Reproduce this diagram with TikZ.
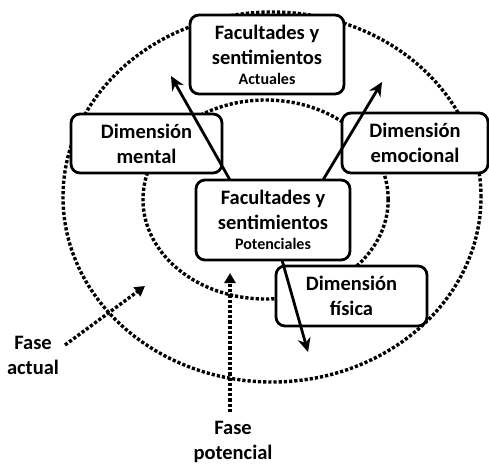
\documentclass[tikz,border=0pt]{standalone}
\usepackage{fontspec}
\setmainfont{Carlito}
\usetikzlibrary{arrows.meta}
\begin{document}
\begin{tikzpicture}[x=1pt,y=-1pt,
  box/.style={draw, line width=2.8pt, rounded corners=9pt, fill=white, inner sep=0pt,
    align=center, font=\bfseries\fontsize{20.5}{25}\selectfont},
  dotline/.style={line width=3.4pt, dash pattern=on 3.2pt off 2pt},
  solidarrow/.style={line width=2.8pt, -{Stealth[length=14pt,width=13pt]}},
  dotarrow/.style={dotline, -{Triangle[length=10pt,width=11pt]}},
  lab/.style={font=\bfseries\fontsize{20.5}{25}\selectfont, align=center, inner sep=0pt}]
\useasboundingbox (0,0) rectangle (489,463);

% phases (dotted ellipses)
\draw[dotline] (272,197) ellipse [x radius=209pt, y radius=185pt];
\draw[dotline] (265.6,199.5) ellipse [x radius=122.6pt, y radius=99.5pt];

% boxes
\node[box, minimum width=154pt, minimum height=79pt] (act) at (267,54.5)
  {Facultades y\\sentimientos\\[-5pt]{\fontsize{16}{19}\selectfont Actuales}};
\node[box, minimum width=151pt, minimum height=59pt] (men) at (146.5,143.5)
  {Dimensión\\mental};
\node[box, minimum width=146pt, minimum height=60pt] (emo) at (415,143)
  {Dimensión\\emocional};
\node[box, minimum width=154pt, minimum height=80pt] (pot) at (273,220)
  {Facultades y\\sentimientos\\[-5pt]{\fontsize{16}{19}\selectfont Potenciales}};
\node[box, minimum width=151pt, minimum height=60pt] (fis) at (351.5,296)
  {Dimensión\\física};

% solid arrows from the central box
\coordinate (t1) at (230,180);
\coordinate (h1) at (171,76);
\coordinate (t2) at (323,180);
\coordinate (h2) at (382,82);
\coordinate (t3) at (282,260);
\coordinate (h3) at (308,352);
\draw[solidarrow] (t1) -- (h1);
\draw[solidarrow] (t2) -- (h2);
\draw[solidarrow] (t3) -- (h3);

% phase labels
\node[lab] (fa) at (33,355) {Fase\\actual};
\node[lab] (fp) at (233,441.5) {Fase\\potencial};
\coordinate (fat) at (65,345);
\coordinate (fah) at (145,286);
\coordinate (fpt) at (230,412);
\coordinate (fph) at (230,273);
\draw[dotarrow] (fat) -- (fah);
\draw[dotarrow] (fpt) -- (fph);
\end{tikzpicture}
\end{document}
